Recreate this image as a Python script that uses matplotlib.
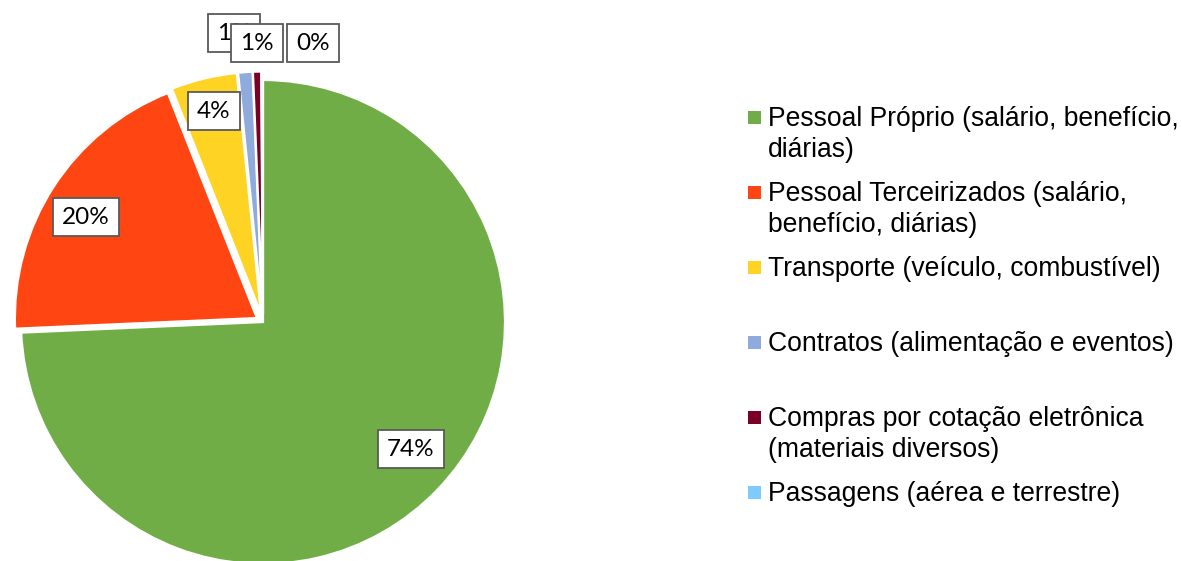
import matplotlib
matplotlib.use("Agg")
import matplotlib.pyplot as plt
from matplotlib.patches import Rectangle

# ---- data ----
categories = [
    "Pessoal Próprio (salário, benefício,\ndiárias)",
    "Pessoal Terceirizados (salário,\nbenefício, diárias)",
    "Transporte (veículo, combustível)",
    "Contratos (alimentação e eventos)",
    "Compras por cotação eletrônica\n(materiais diversos)",
    "Passagens (aérea e terrestre)",
]
values = [74.3, 19.7, 4.4, 0.95, 0.55, 0.1]
colors = ["#70AD47", "#FF4511", "#FFD324", "#8FAADC", "#7B0025", "#7FCBFF"]

# ---- layout (pixel coordinates) ----
W, H = 1182, 561
center = (263, 322)
radius = 242
explode_frac = [0, 0.03, 0.035, 0.035, 0.035, 0.035]
label_xy = [(411, 449), (86, 217), (214, 111), (234, 33), (257, 43), (313, 43)]
leg_x_marker, leg_x_text = 748, 768
leg_y0, leg_step, line_step = 117, 75, 31
marker_size = 13

fig = plt.figure(figsize=(W / 100, H / 100), dpi=100)
ax = fig.add_axes([0, 0, 1, 1])

ax.pie(values, colors=colors, explode=[e * radius for e in explode_frac],
       center=center, radius=radius, startangle=-90, counterclock=True,
       wedgeprops=dict(edgecolor="white", linewidth=1.6))

ax.set_xlim(0, W)
ax.set_ylim(H, 0)
ax.set_aspect("equal")
ax.axis("off")

for v, (lx, ly) in zip(values, label_xy):
    ax.text(lx, ly, f"{round(v):d}%", ha="center", va="center",
            family="Lato", fontsize=17.5, color="black", zorder=5,
            bbox=dict(boxstyle="square,pad=0.36", facecolor="white",
                      edgecolor="#595959", linewidth=1.3))

for i, (cat, col) in enumerate(zip(categories, colors)):
    yc = leg_y0 + i * leg_step
    ax.add_patch(Rectangle((leg_x_marker, yc - marker_size / 2), marker_size, marker_size,
                           facecolor=col, edgecolor="none"))
    for k, line in enumerate(cat.split("\n")):
        ax.text(leg_x_text, yc + 8.5 + k * line_step, line, ha="left", va="baseline",
                family="Liberation Sans", fontsize=19.1, color="#000000")

fig.savefig("out.png", dpi=100)
